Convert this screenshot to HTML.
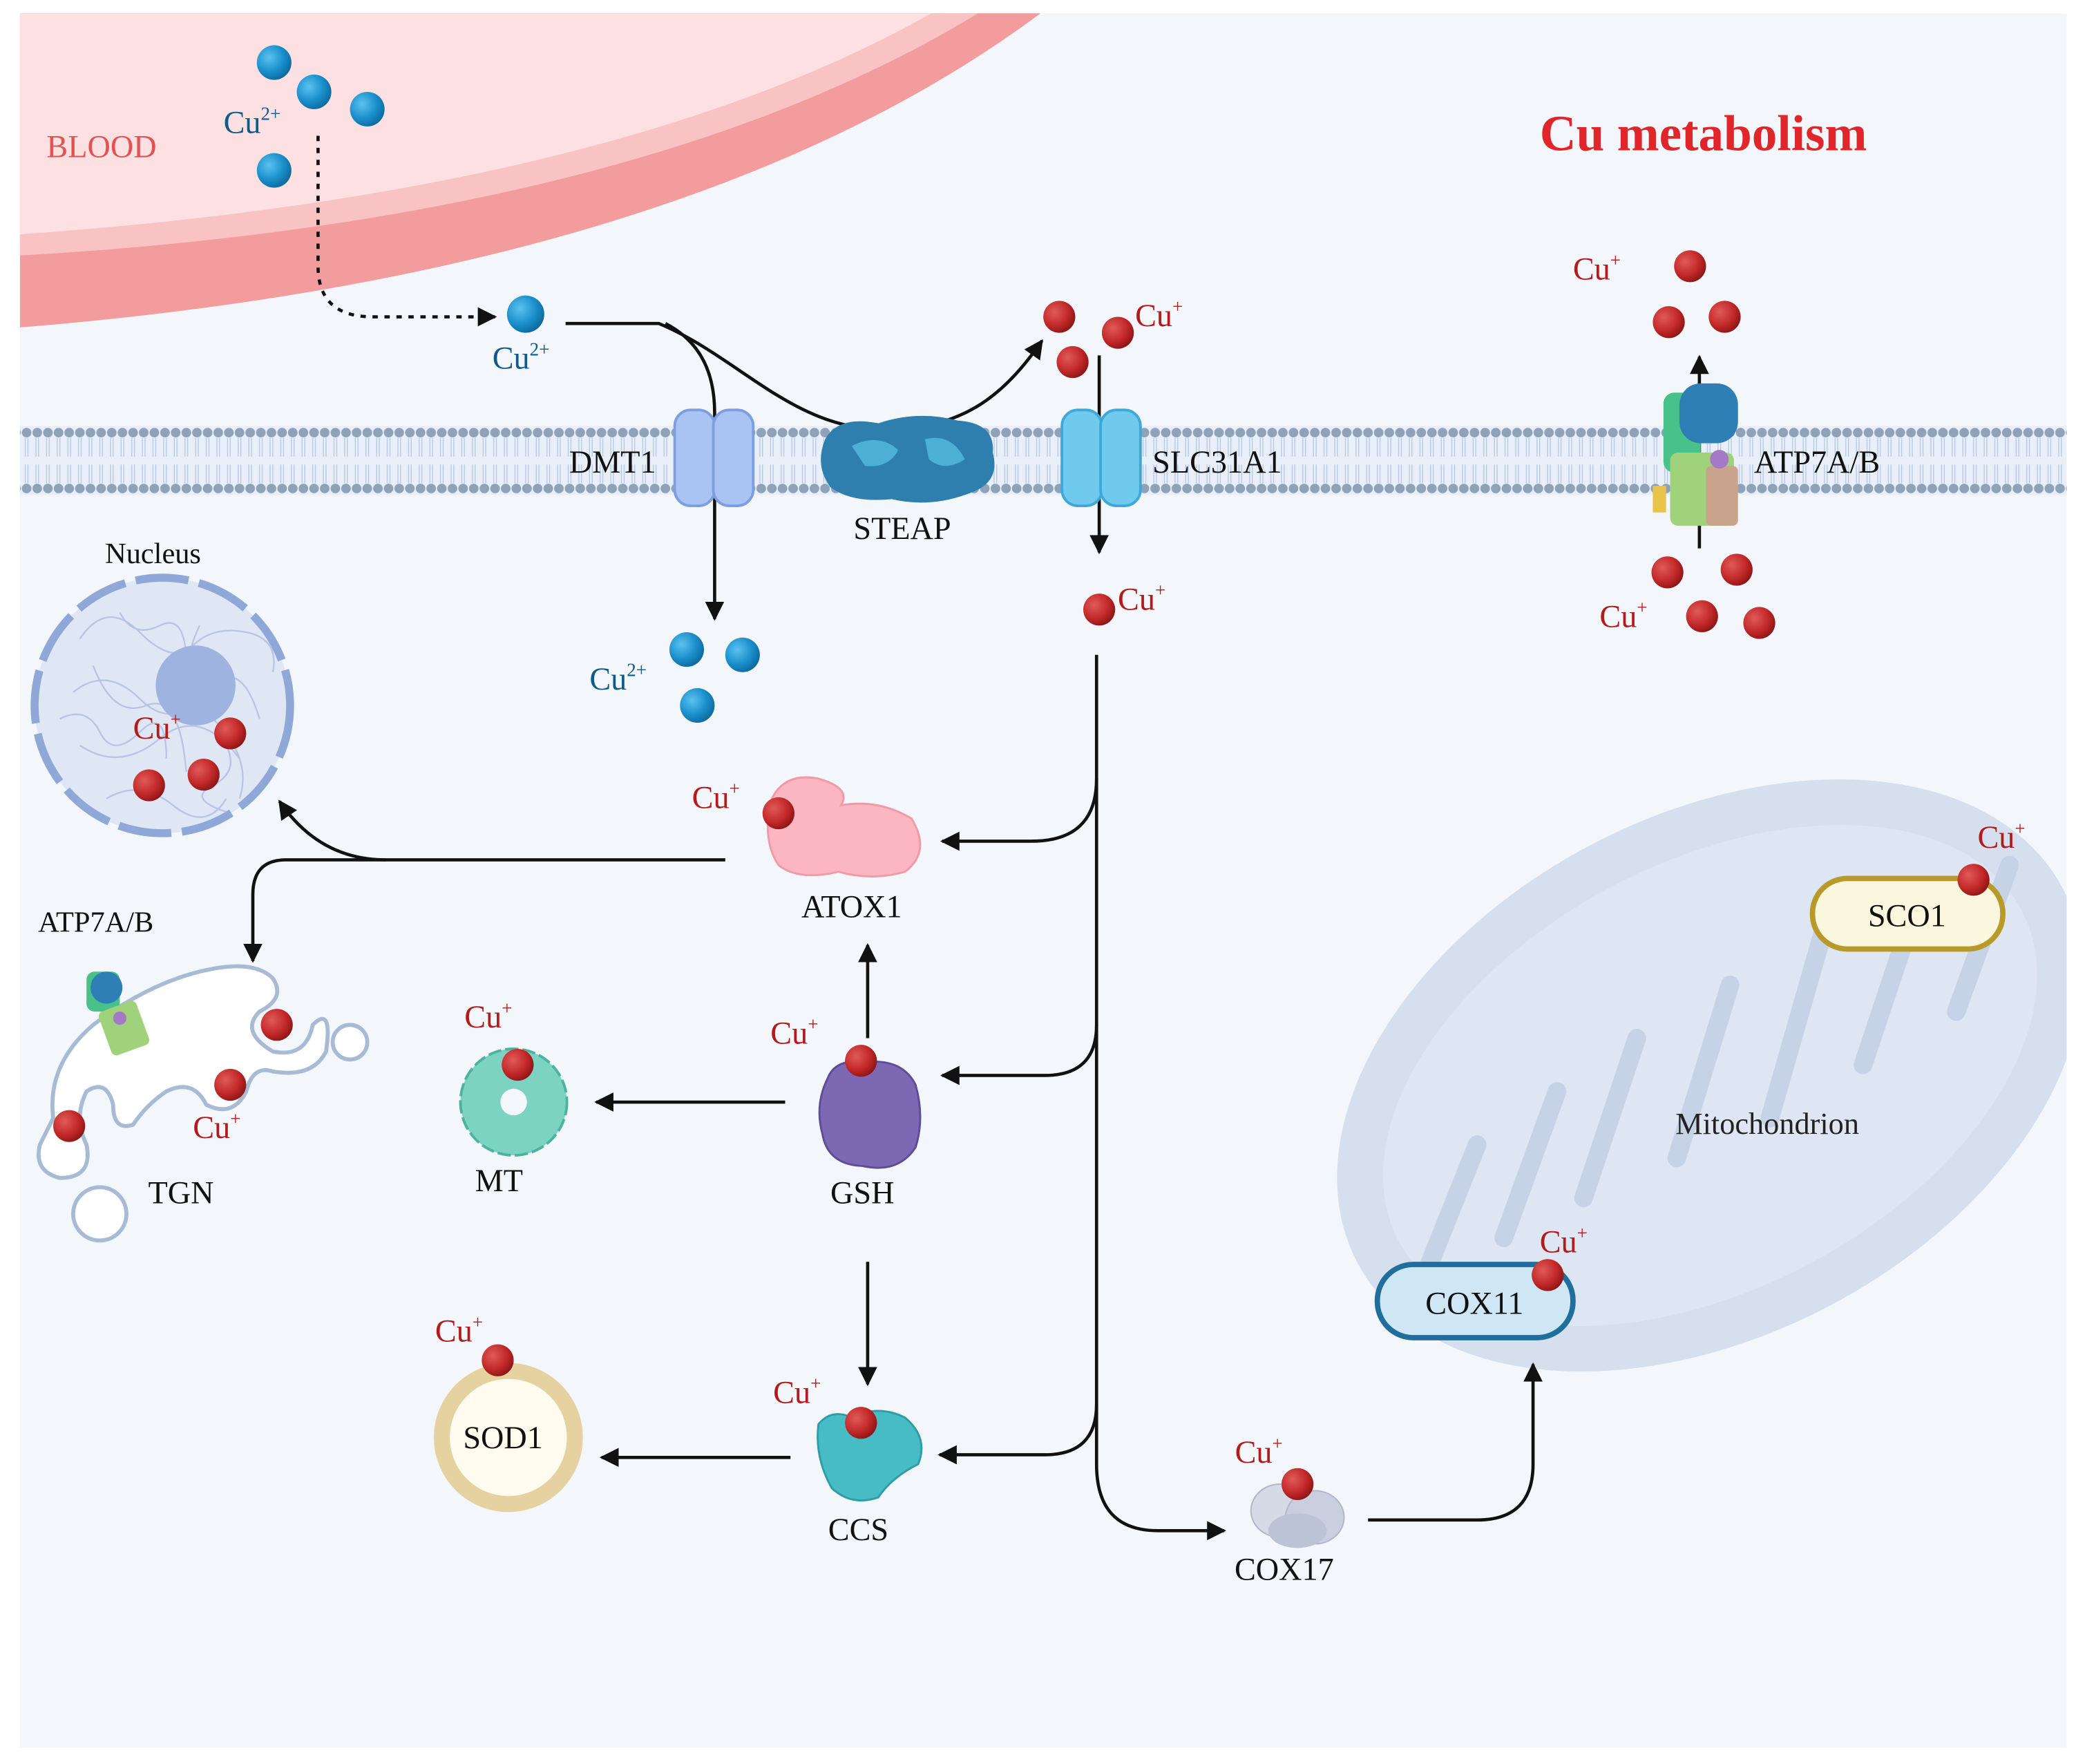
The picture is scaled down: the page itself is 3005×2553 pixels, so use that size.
<!DOCTYPE html>
<html><head><meta charset="utf-8"><style>html,body{margin:0;padding:0;background:#fff}svg{display:block}</style></head><body>
<svg width="3005" height="2553" viewBox="0 0 1560 1325.3" xmlns="http://www.w3.org/2000/svg" font-family="'Liberation Serif', serif">
<defs>
<radialGradient id="bl" cx="0.35" cy="0.35" r="0.7"><stop offset="0" stop-color="#5cc2f0"/><stop offset="0.6" stop-color="#1a8fcc"/><stop offset="1" stop-color="#0d6a9e"/></radialGradient>
<radialGradient id="rd" cx="0.35" cy="0.35" r="0.7"><stop offset="0" stop-color="#e05a5a"/><stop offset="0.6" stop-color="#c42a2a"/><stop offset="1" stop-color="#8e1515"/></radialGradient>
<pattern id="heads" x="0" y="320" width="8" height="52" patternUnits="userSpaceOnUse"><circle cx="4" cy="5" r="3.6" fill="#8fa3b8"/><circle cx="4" cy="47" r="3.6" fill="#8fa3b8"/><path d="M3,9 L3,23 M5,9 L5,23 M3,29 L3,43 M5,29 L5,43" stroke="#b7c8e0" stroke-width="0.7"/></pattern>
<marker id="ar" viewBox="0 0 10 10" refX="9" refY="5" markerWidth="6" markerHeight="6" orient="auto"><path d="M0,0 L10,5 L0,10 z" fill="#111"/></marker>
<clipPath id="cell"><rect x="15" y="10" width="1538" height="1303"/></clipPath>
</defs>
<rect x="15" y="10" width="1538" height="1303" fill="#f3f6fb"/>
<path d="M15,10 L782,10 Q520,205 15,246 Z" fill="#f29c9d"/>
<path d="M15,10 L735,10 Q480,165 15,192 Z" fill="#f9c2c3"/>
<path d="M15,10 L700,10 Q460,145 15,176 Z" fill="#fde0e1"/>
<text x="35" y="118" font-size="24" fill="#e25252">BLOOD</text>
<rect x="15" y="320" width="1538" height="52" fill="#e8eff9"/>
<rect x="15" y="320" width="1538" height="52" fill="url(#heads)"/>
<g clip-path="url(#cell)">
<ellipse cx="1285" cy="808" rx="300" ry="195" transform="rotate(-28 1285 808)" fill="#d5dfee"/>
<ellipse cx="1285" cy="808" rx="265" ry="160" transform="rotate(-28 1285 808)" fill="#dde6f2"/>
<g stroke="#c6d3e7" stroke-width="14" fill="none" stroke-linecap="round">
<path d="M1070,960 L1110,860"/><path d="M1130,930 L1170,820"/><path d="M1190,900 L1230,780"/><path d="M1260,870 L1300,740"/><path d="M1330,840 L1370,700"/><path d="M1400,800 L1440,680"/><path d="M1470,760 L1510,650"/>
</g>
</g>
<text x="1328" y="852" font-size="23" fill="#222" text-anchor="middle">Mitochondrion</text>
<text x="1280" y="113" font-size="38" font-weight="bold" fill="#e0262a" text-anchor="middle">Cu metabolism</text>
<g stroke="#111" stroke-width="2.4" fill="none">
<path d="M239,102 L239,200 Q239,238 280,238 L372,238" stroke-dasharray="4,5" marker-end="url(#ar)"/>
<path d="M425,243 L495,243 C560,270 600,330 680,322 C730,318 758,292 783,256" marker-end="url(#ar)"/>
<path d="M500,243 Q537,262 537,310 L537,465" marker-end="url(#ar)"/>
<path d="M826,267 L826,415" marker-end="url(#ar)"/>
<path d="M824,492 L824,1100 Q824,1150 870,1150 L920,1150" marker-end="url(#ar)"/>
<path d="M824,585 Q824,632 775,632 L708,632" marker-end="url(#ar)"/>
<path d="M824,770 Q824,808 785,808 L708,808" marker-end="url(#ar)"/>
<path d="M824,1055 Q824,1093 785,1093 L706,1093" marker-end="url(#ar)"/>
<path d="M545,646 L215,646 Q190,646 190,672 L190,722" marker-end="url(#ar)"/>
<path d="M290,646 Q240,646 210,602" marker-end="url(#ar)"/>
<path d="M652,780 L652,710" marker-end="url(#ar)"/>
<path d="M590,828 L448,828" marker-end="url(#ar)"/>
<path d="M652,948 L652,1040" marker-end="url(#ar)"/>
<path d="M594,1095 L452,1095" marker-end="url(#ar)"/>
<path d="M1028,1142 L1110,1142 Q1152,1142 1152,1100 L1152,1025" marker-end="url(#ar)"/>
<path d="M1277,412 L1277,268" marker-end="url(#ar)"/>
</g>
<rect x="507" y="308" width="30" height="72" rx="12" fill="#a9c4f2" stroke="#7d9fe0" stroke-width="2"/>
<rect x="536" y="308" width="30" height="72" rx="12" fill="#a9c4f2" stroke="#7d9fe0" stroke-width="2"/>
<text x="493" y="355" font-size="24" fill="#111" text-anchor="end">DMT1</text>
<path d="M620,330 Q630,312 660,318 Q690,308 720,316 Q748,318 746,340 Q752,362 730,370 Q700,382 670,375 Q640,378 624,366 Q612,350 620,330 Z" fill="#2f7fae"/>
<path d="M640,335 Q660,325 675,338 Q668,352 650,350 Z M695,330 Q715,325 725,345 Q710,355 698,345 Z" fill="#4cb0d4"/>
<text x="678" y="405" font-size="24" fill="#111" text-anchor="middle">STEAP</text>
<rect x="798" y="308" width="30" height="72" rx="12" fill="#6fcaee" stroke="#3fa8d8" stroke-width="2"/>
<rect x="827" y="308" width="30" height="72" rx="12" fill="#6fcaee" stroke="#3fa8d8" stroke-width="2"/>
<text x="866" y="355" font-size="24" fill="#111">SLC31A1</text>
<rect x="1250" y="295" width="28" height="60" rx="8" fill="#49c18a"/>
<rect x="1262" y="288" width="44" height="45" rx="16" fill="#2d7fb5"/>
<rect x="1255" y="340" width="48" height="55" rx="6" fill="#9fd27a"/>
<rect x="1282" y="350" width="24" height="45" rx="4" fill="#c9a38b"/>
<circle cx="1292" cy="345" r="7" fill="#a47ac6"/>
<rect x="1242" y="365" width="10" height="20" fill="#e8c44a"/>
<text x="1318" y="355" font-size="24" fill="#111">ATP7A/B</text>
<circle cx="122" cy="530" r="96" fill="#dfe6f4" stroke="#8fa8d8" stroke-width="6" stroke-dasharray="40,8"/>
<g stroke="#b7c4e4" stroke-width="1.2" fill="none">
<path d="M60,480 q20,-30 45,-5 t40,10 t40,-10 t20,30 M55,520 q25,-20 50,5 t50,-5 t40,20 M60,560 q30,20 60,-5 t60,15 M80,600 q25,-15 50,5 t40,-5 M70,500 q15,40 40,30 t30,50 M150,470 q-20,40 10,70 t20,60 M45,540 q20,-10 30,10 t30,0 t20,20 M90,460 q10,20 30,10 t20,30 M170,560 q10,20 -10,30 t10,20"/>
</g>
<circle cx="147" cy="515" r="30" fill="#9fb3e0"/>
<text x="115" y="423" font-size="22" fill="#111" text-anchor="middle">Nucleus</text>
<path d="M40,840 Q35,800 70,770 Q110,740 150,730 Q190,720 205,735 Q215,750 195,760 Q180,775 205,790 Q230,795 235,770 Q250,755 245,790 Q235,810 205,805 Q190,800 185,820 Q175,840 155,830 Q145,810 125,820 Q110,830 100,845 Q85,850 85,830 Q80,810 65,820 Q55,840 65,860 Q70,885 45,885 Q25,880 30,860 Z" fill="#fff" stroke="#a9bad4" stroke-width="3"/>
<circle cx="263" cy="783" r="13" fill="#fff" stroke="#a9bad4" stroke-width="3"/>
<circle cx="75" cy="912" r="20" fill="#fff" stroke="#a9bad4" stroke-width="3"/>
<rect x="65" y="730" width="25" height="30" rx="6" fill="#49c18a"/>
<circle cx="80" cy="742" r="12" fill="#2d7fb5"/>
<rect x="78" y="755" width="30" height="35" rx="4" fill="#9fd27a" transform="rotate(-20 93 772)"/>
<circle cx="90" cy="765" r="5" fill="#a47ac6"/>
<text x="72" y="700" font-size="22" fill="#111" text-anchor="middle">ATP7A/B</text>
<text x="136" y="904" font-size="24" fill="#111" text-anchor="middle">TGN</text>
<path d="M580,600 Q590,580 615,585 Q640,592 632,605 Q660,600 685,615 Q700,640 680,655 Q655,662 630,655 Q600,662 585,650 Q572,630 580,600 Z" fill="#fbb6c1" stroke="#f09aa8" stroke-width="1.5"/>
<text x="640" y="689" font-size="24" fill="#111" text-anchor="middle">ATOX1</text>
<g transform="translate(386,828)">
<circle r="40" fill="#7dd3c1" stroke="#4cb39e" stroke-width="2" stroke-dasharray="10,3"/>
<circle r="10" fill="#f3f6fb"/>
</g>
<text x="375" y="895" font-size="24" fill="#111" text-anchor="middle">MT</text>
<path d="M622,810 Q628,795 650,798 Q678,795 688,815 Q695,840 688,862 Q675,882 648,876 Q622,875 618,852 Q612,830 622,810 Z" fill="#7d68b3" stroke="#5f4c98" stroke-width="1.5"/>
<text x="648" y="904" font-size="24" fill="#111" text-anchor="middle">GSH</text>
<path d="M615,1070 Q625,1058 640,1065 Q660,1055 680,1065 Q698,1080 690,1100 Q670,1110 660,1125 Q640,1132 625,1118 Q612,1095 615,1070 Z" fill="#47bcc5" stroke="#2f9ca6" stroke-width="1.5"/>
<text x="645" y="1157" font-size="24" fill="#111" text-anchor="middle">CCS</text>
<circle cx="382" cy="1080" r="50" fill="#fffbee" stroke="#e6d1a0" stroke-width="12"/>
<text x="378" y="1088" font-size="24" fill="#111" text-anchor="middle">SOD1</text>
<ellipse cx="962" cy="1135" rx="22" ry="20" fill="#d6dae6" stroke="#b0b6c8"/>
<ellipse cx="988" cy="1140" rx="22" ry="20" fill="#c9cfde" stroke="#b0b6c8"/>
<ellipse cx="975" cy="1150" rx="22" ry="13" fill="#bcc3d4"/>
<text x="965" y="1187" font-size="24" fill="#111" text-anchor="middle">COX17</text>
<rect x="1035" y="950" width="147" height="55" rx="27" fill="#cfe6f5" stroke="#1f6e9c" stroke-width="4"/>
<text x="1108" y="987" font-size="24" fill="#111" text-anchor="middle">COX11</text>
<rect x="1362" y="660" width="143" height="53" rx="26" fill="#fbf7de" stroke="#b89a2b" stroke-width="4"/>
<text x="1433" y="696" font-size="24" fill="#111" text-anchor="middle">SCO1</text>
<g fill="url(#bl)">
<circle cx="206" cy="47" r="13"/><circle cx="236" cy="69" r="13"/><circle cx="276" cy="82" r="13"/><circle cx="206" cy="128" r="13"/>
<circle cx="395" cy="236" r="14"/>
<circle cx="516" cy="488" r="13"/><circle cx="558" cy="492" r="13"/><circle cx="524" cy="530" r="13"/>
</g>
<g fill="url(#rd)">
<circle cx="796" cy="238" r="12"/><circle cx="840" cy="250" r="12"/><circle cx="806" cy="272" r="12"/>
<circle cx="826" cy="458" r="12"/>
<circle cx="1270" cy="200" r="12"/><circle cx="1254" cy="242" r="12"/><circle cx="1296" cy="238" r="12"/>
<circle cx="1253" cy="430" r="12"/><circle cx="1305" cy="428" r="12"/><circle cx="1279" cy="463" r="12"/><circle cx="1322" cy="468" r="12"/>
<circle cx="173" cy="551" r="12"/><circle cx="112" cy="590" r="12"/><circle cx="153" cy="582" r="12"/>
<circle cx="585" cy="611" r="12"/><circle cx="389" cy="800" r="12"/><circle cx="647" cy="797" r="12"/>
<circle cx="208" cy="770" r="12"/><circle cx="173" cy="815" r="12"/><circle cx="52" cy="846" r="12"/>
<circle cx="374" cy="1022" r="12"/><circle cx="647" cy="1069" r="12"/><circle cx="975" cy="1115" r="12"/>
<circle cx="1163" cy="958" r="12"/><circle cx="1483" cy="661" r="12"/>
</g>
<g font-size="24" fill="#0f5a8a">
<text x="168" y="100">Cu<tspan font-size="14" dy="-10">2+</tspan></text>
<text x="370" y="277">Cu<tspan font-size="14" dy="-10">2+</tspan></text>
<text x="443" y="518">Cu<tspan font-size="14" dy="-10">2+</tspan></text>
</g>
<g font-size="24" fill="#b31b1b">
<text x="853" y="245">Cu<tspan font-size="14" dy="-10">+</tspan></text>
<text x="840" y="458">Cu<tspan font-size="14" dy="-10">+</tspan></text>
<text x="1182" y="210">Cu<tspan font-size="14" dy="-10">+</tspan></text>
<text x="1202" y="471">Cu<tspan font-size="14" dy="-10">+</tspan></text>
<text x="100" y="555">Cu<tspan font-size="14" dy="-10">+</tspan></text>
<text x="520" y="607">Cu<tspan font-size="14" dy="-10">+</tspan></text>
<text x="349" y="772">Cu<tspan font-size="14" dy="-10">+</tspan></text>
<text x="579" y="784">Cu<tspan font-size="14" dy="-10">+</tspan></text>
<text x="145" y="855">Cu<tspan font-size="14" dy="-10">+</tspan></text>
<text x="327" y="1008">Cu<tspan font-size="14" dy="-10">+</tspan></text>
<text x="581" y="1054">Cu<tspan font-size="14" dy="-10">+</tspan></text>
<text x="928" y="1099">Cu<tspan font-size="14" dy="-10">+</tspan></text>
<text x="1157" y="941">Cu<tspan font-size="14" dy="-10">+</tspan></text>
<text x="1486" y="637">Cu<tspan font-size="14" dy="-10">+</tspan></text>
</g>
</svg>
</body></html>
